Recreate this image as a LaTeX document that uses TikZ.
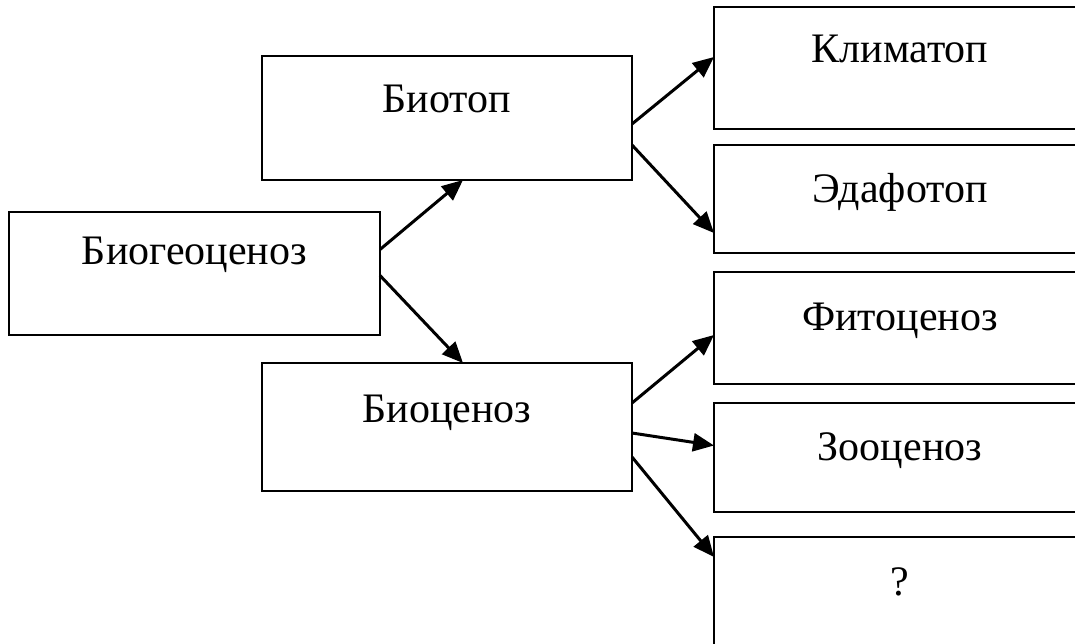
\documentclass[tikz,border=0pt]{standalone}
\usepackage{fontspec}
\setmainfont{Liberation Serif}
\usetikzlibrary{arrows.meta}
\begin{document}
\begin{tikzpicture}[x=1pt,y=-1pt,
  box/.style={draw, line width=2.7pt, inner sep=0pt, outer sep=0pt},
  lbl/.style={anchor=base, inner sep=0pt, font=\fontsize{42}{48}\selectfont},
  arr/.style={line width=3pt, -{Triangle[length=21pt,width=18pt]}}]
\useasboundingbox (0,0) rectangle (1075,643);
\clip (0,0) rectangle (1075,643);
% boxes
\node[box, minimum width=371pt, minimum height=123pt] (bgc)    at (194.5,273.5) {};
\node[box, minimum width=370pt, minimum height=124pt] (biotop) at (447,118) {};
\node[box, minimum width=370pt, minimum height=128pt] (biocen) at (447,427) {};
\node[box, minimum width=372pt, minimum height=122pt] (klim)   at (900,68) {};
\node[box, minimum width=372pt, minimum height=108pt] (edaf)   at (900,199) {};
\node[box, minimum width=372pt, minimum height=112pt] (fito)   at (900,328) {};
\node[box, minimum width=372pt, minimum height=109pt] (zoo)    at (900,457.5) {};
\node[box, minimum width=372pt, minimum height=118pt] (q)      at (900,596) {};
% labels
\node[lbl] (bgct)    at ([yshift=-52pt]bgc.north)    {Биогеоценоз};
\node[lbl] (biotopt) at ([yshift=-56pt]biotop.north) {Биотоп};
\node[lbl] (biocent) at ([yshift=-59pt]biocen.north) {Биоценоз};
\node[lbl] (klimt)   at ([yshift=-55pt]klim.north)   {Климатоп};
\node[lbl] (edaft)   at ([yshift=-57pt]edaf.north)   {Эдафотоп};
\node[lbl] (fitot)   at ([yshift=-58pt]fito.north)   {Фитоценоз};
\node[lbl] (zoot)    at ([yshift=-57pt]zoo.north)    {Зооценоз};
\node[lbl] (qt)      at ([yshift=-58pt]q.north)      {?};
% connectors
\draw[arr] ([yshift=24pt]bgc.east)    -- ([xshift=16pt]biotop.south);
\draw[arr] ([yshift=-2pt]bgc.east)    -- ([xshift=16pt]biocen.north);
\draw[arr] ([yshift=-6pt]biotop.east) -- ([yshift=11pt]klim.west);
\draw[arr] ([yshift=-27pt]biotop.east) -- ([yshift=-34pt]edaf.west);
\draw[arr] ([yshift=24pt]biocen.east) -- ([yshift=-7pt]fito.west);
\draw[arr] ([yshift=-6pt]biocen.east) -- ([yshift=12pt]zoo.west);
\draw[arr] ([yshift=-30pt]biocen.east) -- ([yshift=-20pt]q.north west);
\end{tikzpicture}
\end{document}
